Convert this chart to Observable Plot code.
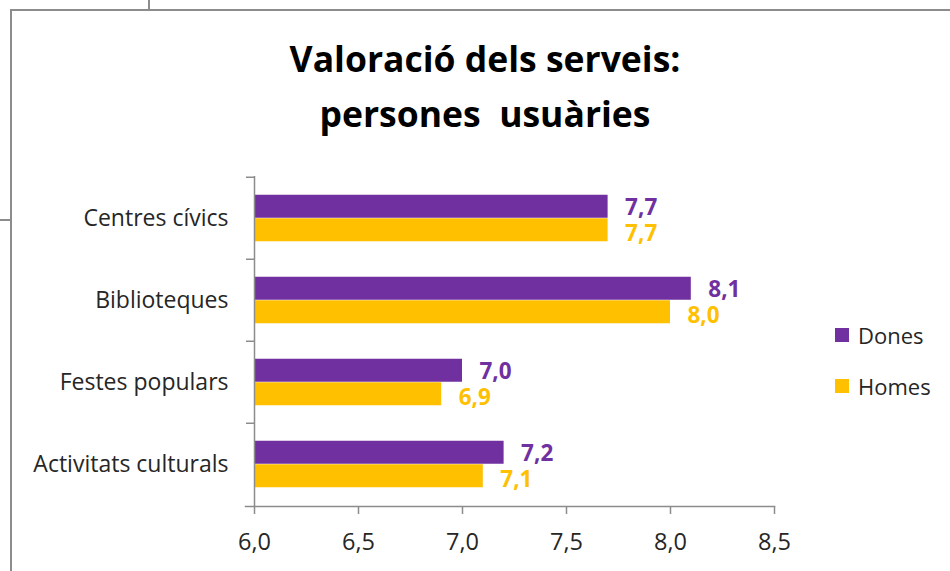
<!DOCTYPE html>
<html>
<head>
<meta charset="utf-8">
<script src="https://cdn.jsdelivr.net/npm/d3@7"></script>
<script src="https://cdn.jsdelivr.net/npm/@observablehq/plot@0.6"></script>
<style>
  html, body { margin: 0; padding: 0; background: #fff; }
  #wrap { position: relative; width: 950px; height: 571px; overflow: hidden; font-family: "Open Sans", sans-serif; }
  .line { position: absolute; background: #8c8c8c; }
  #title { height: 150px; box-sizing: border-box; padding-top: 31px; text-align: center; font-weight: 700; font-size: 35.5px; line-height: 55px; color: #000; padding-left: 20px; }
  #legend { position: absolute; left: 835px; top: 0; font-size: 22px; color: #262626; }
  .item { position: absolute; left: 0; display: flex; align-items: center; white-space: nowrap; height: 30px; }
  .sw { width: 14px; height: 14px; margin-right: 9px; }
  svg { display: block; }
</style>
</head>
<body>
<div id="wrap">
  <div id="title">Valoració dels serveis:<br>persones&nbsp; usuàries</div>
  <div id="chart"></div>
  <div id="legend"></div>
  <div class="line" style="left:148px;top:0;width:2px;height:10px"></div>
  <div class="line" style="left:10px;top:9px;width:940px;height:2px"></div>
  <div class="line" style="left:10px;top:9px;width:2px;height:562px"></div>
  <div class="line" style="left:0;top:219px;width:10px;height:2px"></div>
</div>
<script>
const categories = ["Centres cívics", "Biblioteques", "Festes populars", "Activitats culturals"];
const series = ["Dones", "Homes"];
const dones = [7.7, 8.1, 7.0, 7.2];
const homes = [7.7, 8.0, 6.9, 7.1];
const xTicks = [6.0, 6.5, 7.0, 7.5, 8.0, 8.5];
const colors = ["#7030A0", "#FFC000"];

const fmt = d => d.toFixed(1).replace(".", ",");
const rows = categories.flatMap((c, i) => [
  {cat: c, serie: series[0], v: dones[i]},
  {cat: c, serie: series[1], v: homes[i]}
]);
const xMin = xTicks[0], xMax = xTicks[xTicks.length - 1];

const W = 950, H = 421, mt = 26, mb = 65, ml = 254, mr = 176;
const step = (H - mt - mb) / categories.length;
const barH = 23.5;
const outer = (step - 2 * barH) / 2;
const axisColor = "#8c8c8c";
const textColor = "#262626";

const chart = Plot.plot({
  width: W, height: H,
  marginTop: mt, marginBottom: mb, marginLeft: ml, marginRight: mr,
  style: {fontFamily: "'Open Sans', sans-serif", fontSize: "23px", color: textColor, background: "transparent"},
  x: {domain: [xMin, xMax]},
  y: {domain: categories, padding: 0},
  marks: [
    Plot.barX(rows.filter(d => d.serie === series[0]), {
      y: "cat", x1: () => xMin, x2: "v", fill: colors[0],
      insetTop: outer, insetBottom: outer + barH
    }),
    Plot.barX(rows.filter(d => d.serie === series[1]), {
      y: "cat", x1: () => xMin, x2: "v", fill: colors[1],
      insetTop: outer + barH, insetBottom: outer
    }),
    Plot.ruleX([xMin], {stroke: axisColor, strokeWidth: 1.5}),
    Plot.frame({anchor: "bottom", stroke: axisColor, strokeWidth: 1.5, insetLeft: -9}),
    Plot.axisY({tickSize: 0, tickPadding: 26, label: null, fontSize: 23, fill: textColor}),
    Plot.axisY({tickSize: 8, tickFormat: () => "", label: null, dy: -step / 2, stroke: axisColor, strokeWidth: 1.5}),
    Plot.axisX({ticks: xTicks, tickSize: 8, tickPadding: 19, tickFormat: fmt, label: null, fontSize: 23.5, fill: textColor, stroke: axisColor, strokeWidth: 1.5}),
    Plot.text(rows.filter(d => d.serie === series[0]), {
      x: "v", y: "cat", text: d => fmt(d.v), fill: colors[0], fontWeight: "bold", fontSize: 22.5,
      textAnchor: "start", dx: 17, dy: -barH / 2 + 1
    }),
    Plot.text(rows.filter(d => d.serie === series[1]), {
      x: "v", y: "cat", text: d => fmt(d.v), fill: colors[1], fontWeight: "bold", fontSize: 22.5,
      textAnchor: "start", dx: 17, dy: barH / 2 + 3.5
    })
  ]
});
document.getElementById("chart").appendChild(chart);

const legend = document.getElementById("legend");
const legendTops = [320, 371];
series.forEach((s, i) => {
  const item = document.createElement("div");
  item.className = "item";
  item.style.top = legendTops[i] + "px";
  const sw = document.createElement("span");
  sw.className = "sw";
  sw.style.background = colors[i];
  const t = document.createElement("span");
  t.textContent = s;
  item.appendChild(sw);
  item.appendChild(t);
  legend.appendChild(item);
});
</script>
</body>
</html>
